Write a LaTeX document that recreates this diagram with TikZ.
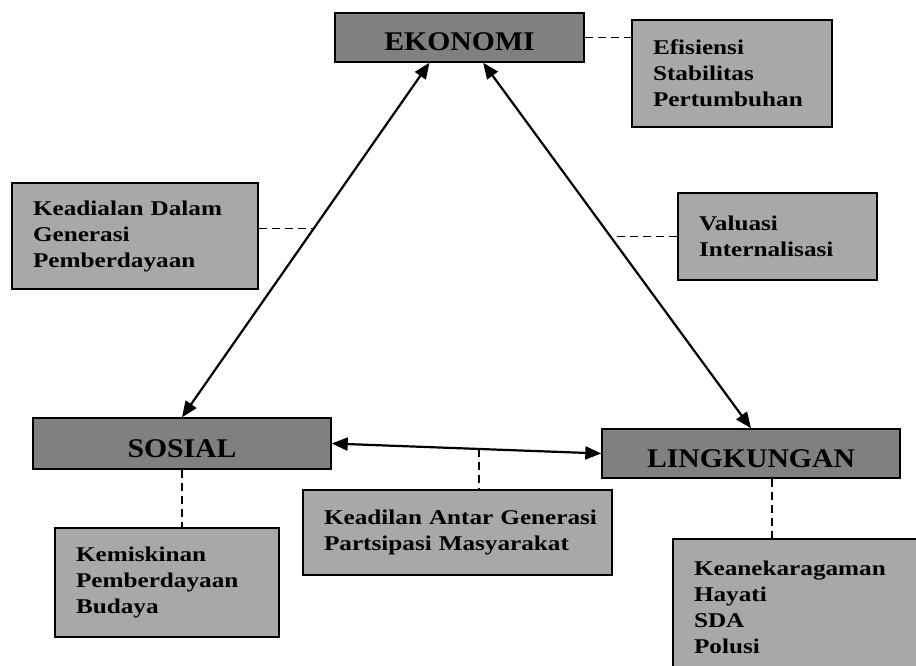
\documentclass[tikz,border=0pt]{standalone}
\usepackage{fontspec}
\setmainfont{Liberation Serif}[FakeStretch=1.2]
\newfontfamily\mainlabfont{Liberation Serif}[FakeStretch=1.1]
\usetikzlibrary{arrows.meta,calc}
\definecolor{mainfill}{HTML}{808080}
\definecolor{subfill}{HTML}{A8A8A8}
\tikzset{
  mainbox/.style={draw=black, line width=1.4pt, fill=mainfill, rectangle,
    minimum height=#1, inner sep=0pt, text height=27pt, text depth=0pt,
    font=\mainlabfont\bfseries\fontsize{27}{30}\selectfont},
  subbox/.style={draw=black, line width=1.4pt, fill=subfill, rectangle,
    inner xsep=21pt, inner ysep=0pt, align=left,
    font=\bfseries\fontsize{21}{26}\selectfont},
  biarrow/.style={line width=2.2pt, {Triangle[length=16pt,width=13pt]}-{Triangle[length=16pt,width=13pt]}},
  dashconn/.style={line width=1.8pt, dash pattern=on 8pt off 5pt}
}
\begin{document}
\begin{tikzpicture}[x=1pt,y=-1pt]
\useasboundingbox (0,0) rectangle (916,666);
\begin{scope}
\clip (0,0) rectangle (916,666);
% main boxes
\node[mainbox=49pt, minimum width=249pt] (eko) at (459.5,37.5) {EKONOMI};
\node[mainbox=51pt, minimum width=298pt] (sos) at (182,443.5) {SOSIAL};
\node[mainbox=49pt, minimum width=298pt] (ling) at (751,453.5) {LINGKUNGAN};
% sub boxes
\node[subbox, minimum width=200pt, minimum height=107pt, text width=158pt] (ef) at (732,73.5) {Efisiensi\\Stabilitas\\Pertumbuhan};
\node[subbox, minimum width=246pt, minimum height=106pt, text width=204pt] (kd) at (135,236) {Keadialan Dalam\\Generasi\\Pemberdayaan};
\node[subbox, minimum width=199pt, minimum height=87pt, text width=157pt] (val) at (777.5,236.5) {Valuasi\\Internalisasi};
\node[subbox, minimum width=309pt, minimum height=85pt, text width=267pt] (ka) at (457.5,532.5) {\mbox{Keadilan Antar Generasi}\\\mbox{Partsipasi Masyarakat}};
\node[subbox, minimum width=224pt, minimum height=109pt, text width=182pt] (km) at (167,582.5) {Kemiskinan\\Pemberdayaan\\Budaya};
\node[subbox, minimum width=257pt, minimum height=136pt, text width=215pt] (kn) at (801.5,607) {Keanekaragaman\\Hayati\\SDA\\Polusi};
% arrow anchor points
\coordinate (ekoL) at ($(eko.south west)!0.38!(eko.south east)$);
\coordinate (ekoR) at ($(eko.south west)!0.5944!(eko.south east)$);
\coordinate (lingT) at (ling.north);
\coordinate (sosT) at (sos.north);
% arrows
\draw[biarrow] (ekoL) -- (sosT);
\draw[biarrow] (ekoR) -- (lingT);
\draw[biarrow] (sos.east) -- (ling.west);
% points on the arrows
\coordinate (pL) at ($(ekoL)!0.469!(sosT)$);
\coordinate (pR) at ($(ekoR)!0.4755!(lingT)$);
\coordinate (pH) at ($(sos.east)!0.546!(ling.west)$);
\coordinate (kdE) at ($(kd.north east)!0.43!(kd.south east)$);
\coordinate (lingB) at ($(ling.south west)!0.57!(ling.south east)$);
% dashed connectors
\draw[dashconn] (eko.east) -- (eko.east -| ef.west);
\draw[dashconn] (kdE) -- (kdE -| pL);
\draw[dashconn] (val.west) -- (val.west -| pR);
\draw[dashconn] (pH) -- (pH |- ka.north);
\draw[dashconn] (sos.south) -- (sos.south |- km.north);
\draw[dashconn] (lingB) -- (lingB |- kn.north);
\end{scope}
\end{tikzpicture}
\end{document}
